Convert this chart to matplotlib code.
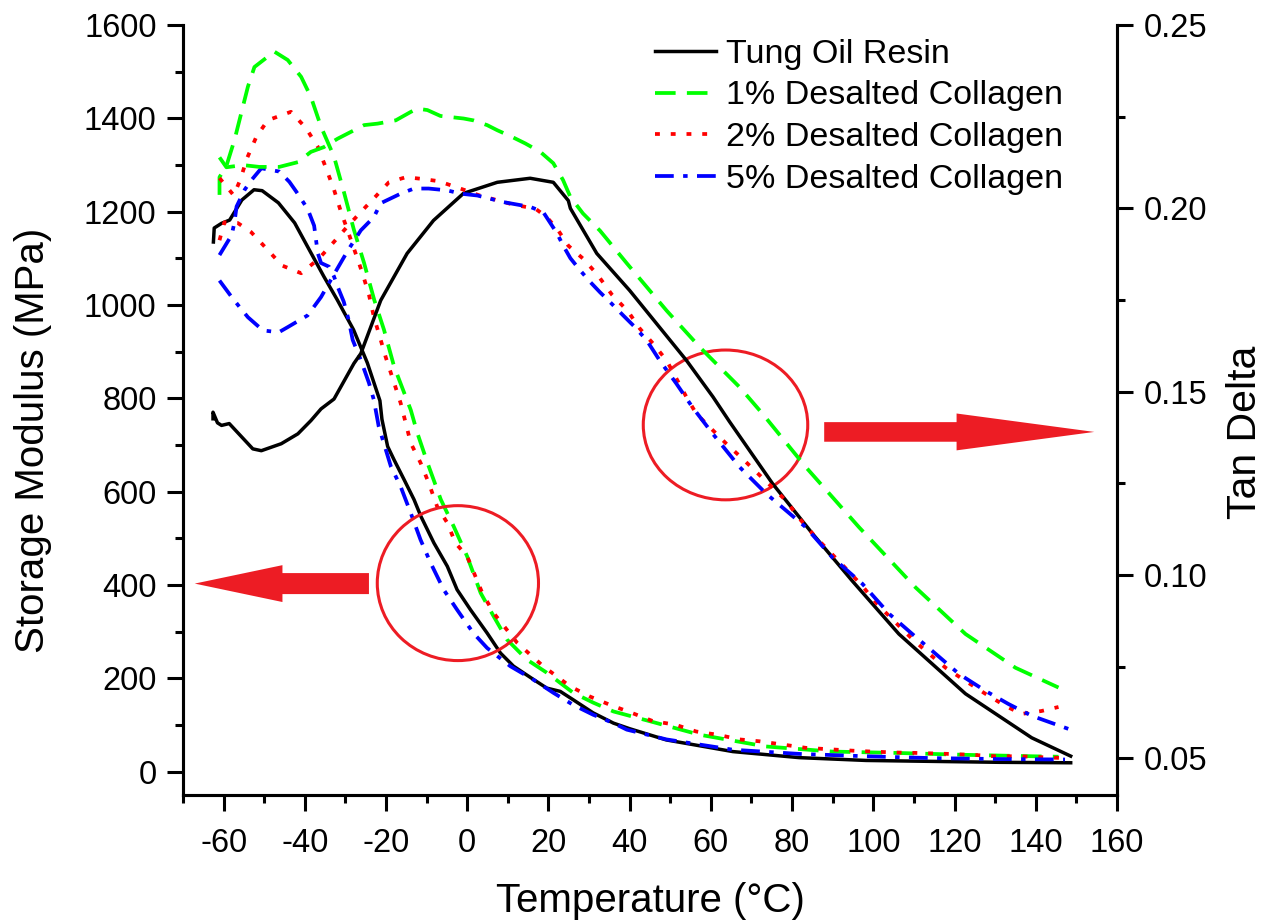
import numpy as np
import matplotlib
matplotlib.use("Agg")
import matplotlib.pyplot as plt
from matplotlib.patches import Ellipse, FancyArrow
from matplotlib.ticker import MultipleLocator, FormatStrFormatter

plt.rcParams['font.family'] = ['Liberation Sans', 'DejaVu Sans']
plt.rcParams['axes.unicode_minus'] = False

# ---- storage modulus (MPa), left axis ----
tung_x_E = [-62.5, -62.3, -60.5, -58.5, -55.5, -52.5, -50.5, -46.5, -42.5, -38.5, -35.3, -32, -28, -24.6,
            -21.5, -21, -19.6, -18, -15.5, -13.1, -11.4, -8.2, -4.9, -2.5, 0.8, 4.9, 8.2, 11.4, 16.4, 19.6,
            22.9, 26.1, 31, 36, 40, 49, 65.4, 81.8, 98.2, 114.5, 131, 148.6]
tung_E = [1135, 1165, 1175, 1182, 1225, 1247, 1245, 1219, 1176, 1112, 1061, 1011, 947, 876,
          795, 755, 697, 668, 625, 583, 547, 490, 440, 390, 347, 297, 254, 226, 197, 179,
          172, 154, 126, 104, 92, 68, 43, 30, 24, 22, 20, 19]

c1_x_E = [-61, -61, -59.3, -57.3, -54, -52.4, -47.5, -44.2, -40.9, -38.5, -36, -32.8, -30.3, -27.9, -25.4,
          -22.9, -20.5, -18, -13.9, -12.3, -9.8, -6.5, -3.3, 0, 3.3, 6.5, 9.8, 14.7, 19.6, 26.1, 31, 36,
          45, 57.3, 73.5, 89.9, 106.3, 122.7, 139, 145.6]
c1_E = [1236, 1274, 1298, 1354, 1468, 1510, 1543, 1525, 1489, 1446, 1382, 1318, 1240, 1161, 1090,
        1011, 947, 868, 775, 726, 662, 583, 525, 461, 383, 333, 283, 240, 212, 169, 148, 129,
        108, 79, 54, 43, 40, 36, 33, 32]

c2_x_E = [-61, -57.5, -55.9, -54.2, -51.9, -49.1, -43.4, -39.7, -36.8, -34.8, -32.8, -31.1, -29.5, -27.5,
          -25.8, -24.2, -23, -21.3, -20.1, -18, -16.4, -13.9, -11.5, -9.5, -7.4, -4.9, -2.9, 0, 3.7, 6.5,
          12.3, 18.7, 25.3, 30.2, 35.2, 40.5, 45.8, 51.1, 56.4, 61.7, 67.1, 72, 77.7, 83.4, 89.1, 94.8,
          99.7, 105.5, 111.2, 118.6, 124.4, 130, 135.8, 141.4, 147.2]
c2_E = [1272, 1235, 1268, 1315, 1361, 1396, 1414, 1379, 1339, 1294, 1247, 1200, 1161, 1111,
        1068, 1022, 975, 925, 889, 833, 790, 704, 662, 619, 568, 533, 490, 461, 383, 340,
        276, 226, 183, 161, 143, 126, 108, 101, 86, 79, 69, 65, 58, 51, 48, 45,
        43, 41, 40, 38, 36, 33, 33, 31, 29]

c5_x_E = [-61, -58, -57.3, -56.8, -54.8, -53.2, -50.7, -46.3, -43.8, -42.1, -39.3, -37.7, -36.8, -36, -34,
          -32.8, -31.9, -30.4, -29.2, -28.2, -26.2, -24.2, -23, -21.8, -18.8, -16.4, -13.9, -11.5, -9, -5.8,
          -2.5, 1.5, 4.9, 10.6, 16.3, 21.2, 26.1, 31, 36, 39.3, 49.1, 65.4, 81.8, 98.1, 114.5, 130.9, 147.2]
c5_E = [1107, 1150, 1178, 1211, 1247, 1267, 1293, 1286, 1264, 1243, 1206, 1170, 1111, 1090, 1082,
        1061, 1039, 1007, 968, 925, 882, 833, 797, 740, 654, 611, 554, 497, 447, 390,
        347, 297, 265, 226, 197, 169, 143, 122, 104, 90, 69, 47, 38, 33, 29, 27, 26]

# ---- tan delta, right axis ----
tung_x_tan = [-62.6, -62.6, -61.5, -60.5, -58.6, -52.8, -50.7, -45.8, -41.7, -38.5, -36, -32.8, -27.9, -26.2,
              -21.3, -14.8, -8.3, -0.9, 7.4, 15.5, 21.2, 24.9, 25.4, 31.9, 40, 54, 60.5, 64.6, 75.2, 85,
              94.8, 106.3, 122.7, 139, 148.6]
tung_tan = [0.1426, 0.1444, 0.1415, 0.1408, 0.1413, 0.1344, 0.1339, 0.1358, 0.1385, 0.1421, 0.1453, 0.1480,
            0.1577, 0.1604, 0.1749, 0.1877, 0.1967, 0.2041, 0.2071, 0.2082, 0.2071, 0.2021, 0.2000, 0.1877,
            0.1776, 0.1585, 0.1486, 0.1418, 0.1249, 0.1113, 0.0984, 0.0839, 0.0676, 0.0556, 0.0506]

c1_x_tan = [-61, -59.3, -55.2, -51.2, -46.3, -41.7, -38.5, -35.3, -31.9, -25.4, -22.1, -17.6, -13.9, -12.3,
            -9.8, -6.6, -0.9, 1.5, 4.9, 7.4, 11, 14.3, 18, 21.2, 23.6, 25.4, 28.5, 32.7, 39.3, 49.1, 57.3,
            67.1, 72.7, 83.4, 96.5, 110.4, 122.7, 135, 145.6]
c1_tan = [0.2139, 0.2112, 0.2118, 0.2113, 0.2113, 0.2126, 0.2154, 0.2167, 0.2190, 0.2227, 0.2231, 0.2240,
          0.2263, 0.2272, 0.2268, 0.2252, 0.2245, 0.2240, 0.2227, 0.2213, 0.2195, 0.2177, 0.2154, 0.2123,
          0.2077, 0.2031, 0.1986, 0.1939, 0.1850, 0.1721, 0.1621, 0.1512, 0.1440, 0.1294, 0.1130, 0.0966,
          0.0839, 0.0747, 0.0693]

c2_x_tan = [-61, -59.8, -56.5, -53.2, -49.5, -45.6, -40.9, -36.5, -32.7, -29.7, -26.2, -22.5, -19.3, -15.1,
            -10.9, -7.0, -0.4, 2.8, 11.4, 16.8, 19.6, 22.4, 24.9, 28.5, 32.0, 35.6, 39.6, 42.5, 45.7, 49.1,
            54.0, 56.4, 63.8, 67.8, 78.5, 81.8, 85.9, 93.3, 97.3, 100.6, 104.6, 108.8, 112.9, 117.8, 122.7,
            127.6, 132.5, 136.5, 141.4, 145.6]
c2_tan = [0.1913, 0.1962, 0.1960, 0.1935, 0.1891, 0.1844, 0.1823, 0.1863, 0.1910, 0.1948, 0.1990, 0.2033,
          0.2071, 0.2085, 0.2080, 0.2074, 0.2049, 0.2036, 0.2010, 0.1999, 0.1976, 0.1940, 0.1898, 0.1863,
          0.1820, 0.1765, 0.1719, 0.1672, 0.1632, 0.1585, 0.1485, 0.1440, 0.1358, 0.1317, 0.1203, 0.1154,
          0.1102, 0.1017, 0.0970, 0.0925, 0.0880, 0.0834, 0.0793, 0.0747, 0.0711, 0.0676, 0.0643, 0.0621,
          0.0629, 0.0640]

c5_x_tan = [-61, -58, -56, -54, -50.3, -46.4, -44.2, -39.3, -36, -32.8, -29.4, -26.2, -23, -21.3, -16.4,
            -13.1, -9.5, -4.9, -1.6, 2.5, 5.7, 8.9, 15.5, 18.7, 22.1, 23.6, 25.4, 27.8, 30.3, 32.7, 35.2,
            38.4, 41.3, 44.2, 47.4, 51.5, 55.5, 60.4, 67.1, 73.6, 83.4, 89.9, 97.3, 103.9, 109.6, 114.5,
            121.1, 127.6, 133.3, 139, 144.8, 148.1]
c5_tan = [0.1803, 0.1758, 0.1730, 0.1703, 0.1667, 0.1662, 0.1676, 0.1708, 0.1758, 0.1820, 0.1885, 0.1940,
          0.1976, 0.2014, 0.2040, 0.2054, 0.2054, 0.2049, 0.2040, 0.2035, 0.2026, 0.2017, 0.2004, 0.1990,
          0.1932, 0.1899, 0.1864, 0.1831, 0.1799, 0.1771, 0.1744, 0.1708, 0.1676, 0.1640, 0.1585, 0.1522,
          0.1457, 0.1386, 0.1294, 0.1222, 0.1130, 0.1048, 0.0976, 0.0894, 0.0839, 0.0793, 0.0730, 0.0684,
          0.0648, 0.0616, 0.0593, 0.0580]

labels = ["Tung Oil Resin", "1% Desalted Collagen", "2% Desalted Collagen", "5% Desalted Collagen"]

styles = [dict(color='black', lw=2.5, ls='-'),
          dict(color='#00FF00', lw=2.7, dashes=(5.5, 3)),
          dict(color='#FF0000', lw=2.7, dashes=(1.3, 2.9)),
          dict(color='#0000FF', lw=2.7, dashes=(5, 2.5, 1.2, 2.5))]

red = '#ED1C24'

fig = plt.figure(figsize=(12.67, 9.23), dpi=100)
ax = fig.add_axes([0.1444, 0.1387, 0.7372, 0.8342])
ax2 = ax.twinx()

E_sets = [(tung_x_E, tung_E), (c1_x_E, c1_E), (c2_x_E, c2_E), (c5_x_E, c5_E)]
tan_sets = [(tung_x_tan, tung_tan), (c1_x_tan, c1_tan), (c2_x_tan, c2_tan), (c5_x_tan, c5_tan)]

handles = []
for (xe, ye), (xt, yt), st, lab in zip(E_sets, tan_sets, styles, labels):
    h, = ax.plot(xe, ye, label=lab, **st)
    ax2.plot(xt, yt, **st)
    handles.append(h)

ax.set_xlim(-70, 160)
ax.set_ylim(-50, 1600)
ax2.set_ylim(0.04, 0.25)

ax.set_xticks(np.arange(-60, 161, 20))
ax.xaxis.set_minor_locator(MultipleLocator(10))
ax.set_yticks(np.arange(0, 1601, 200))
ax.yaxis.set_minor_locator(MultipleLocator(100))
ax2.set_yticks([0.05, 0.10, 0.15, 0.20, 0.25])
ax2.yaxis.set_minor_locator(MultipleLocator(0.025))
ax2.yaxis.set_major_formatter(FormatStrFormatter('%.2f'))

for a in (ax, ax2):
    a.spines['top'].set_visible(False)
    for s in ('left', 'right', 'bottom'):
        a.spines[s].set_linewidth(2.2)
    a.tick_params(which='major', direction='out', length=11.5, width=2.2, labelsize=23.5, pad=7.5)
    a.tick_params(which='minor', direction='out', length=5.8, width=2.2)
ax.tick_params(axis='x', which='major', pad=12)

ax.set_xlabel('Temperature (°C)', fontsize=29)
ax.xaxis.set_label_coords(0.5, -0.113)
ax.set_ylabel('Storage Modulus (MPa)', fontsize=29)
ax.yaxis.set_label_coords(-0.140, 0.46)
ax2.set_ylabel('Tan Delta', fontsize=29.5)
ax2.yaxis.set_label_coords(1.117, 0.471)

# red circles and arrows marking which curves belong to which axis
ax.add_patch(Ellipse((-2.3, 404), 39.7, 332, fill=False, ec=red, lw=2.2, zorder=5))
ax.add_patch(Ellipse((63.6, 743), 40.5, 321, fill=False, ec=red, lw=2.2, zorder=5))
ax.add_patch(FancyArrow(-24.2, 403, -42.9, 0, width=45, head_width=79, head_length=21.6,
                        length_includes_head=True, color=red, lw=0, zorder=5))
ax.add_patch(FancyArrow(87.9, 728, 66.5, 0, width=42, head_width=79, head_length=33.9,
                        length_includes_head=True, color=red, lw=0, zorder=5))

ax2.legend(handles, labels, loc='upper left', bbox_to_anchor=(0.505, 0.982), frameon=False,
           fontsize=24.5, handlelength=1.8, handletextpad=0.3, labelspacing=0.31,
           borderpad=0, borderaxespad=0)

fig.savefig('out.png', dpi=100)
